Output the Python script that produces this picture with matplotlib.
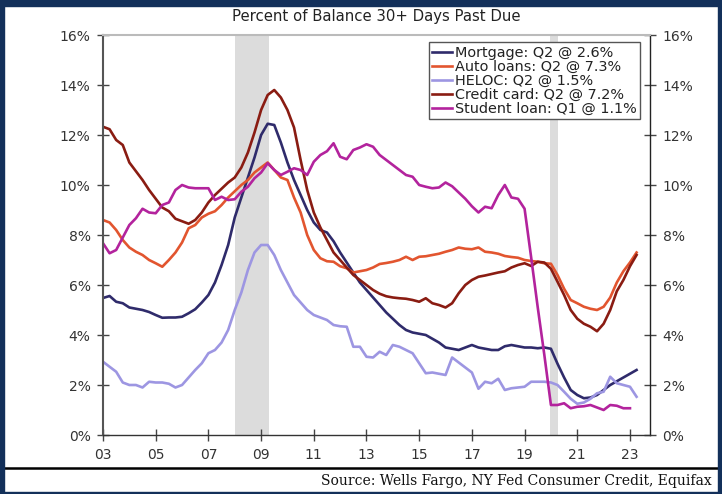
import matplotlib
matplotlib.use("Agg")
import matplotlib.pyplot as plt
from matplotlib.patches import Rectangle
from matplotlib.lines import Line2D
import numpy as np

# ---------------- data (quarterly, 2003Q1 ...) ----------------
start_year = 2003.0
mortgage = [5.48, 5.56, 5.33, 5.27,
            5.10, 5.05, 5.00, 4.92,
            4.80, 4.69, 4.70, 4.70,
            4.73, 4.87, 5.03, 5.30,
            5.60, 6.10, 6.80, 7.60,
            8.70, 9.50, 10.30, 11.10,
            12.00, 12.45, 12.40, 11.70,
            10.90, 10.20, 9.60, 9.00,
            8.50, 8.20, 8.10, 7.75,
            7.30, 6.90, 6.50, 6.10,
            5.80, 5.50, 5.20, 4.90,
            4.65, 4.40, 4.20, 4.10,
            4.05, 4.00, 3.85, 3.70,
            3.50, 3.45, 3.40, 3.50,
            3.60, 3.50, 3.45, 3.40,
            3.40, 3.55, 3.60, 3.55,
            3.50, 3.50, 3.47, 3.50,
            3.45, 2.85, 2.30, 1.80,
            1.60, 1.47, 1.50, 1.60,
            1.80, 2.00, 2.15, 2.30,
            2.45, 2.60]
auto = [8.60, 8.50, 8.20, 7.80,
        7.50, 7.33, 7.20, 7.00,
        6.87, 6.73, 7.00, 7.30,
        7.70, 8.27, 8.40, 8.70,
        8.85, 8.95, 9.20, 9.50,
        9.75, 10.00, 10.20, 10.50,
        10.70, 10.90, 10.60, 10.30,
        10.20, 9.50, 8.90, 8.00,
        7.40, 7.07, 6.95, 6.93,
        6.75, 6.67, 6.50, 6.55,
        6.60, 6.70, 6.84, 6.88,
        6.93, 7.00, 7.13, 7.00,
        7.13, 7.15, 7.20, 7.25,
        7.33, 7.40, 7.50, 7.45,
        7.43, 7.50, 7.33, 7.30,
        7.25, 7.16, 7.12, 7.09,
        7.00, 6.96, 6.93, 6.87,
        6.85, 6.40, 5.85, 5.40,
        5.27, 5.13, 5.05, 5.00,
        5.13, 5.50, 6.10, 6.55,
        6.90, 7.30]
heloc = [2.93, 2.73, 2.53, 2.10,
         2.00, 2.00, 1.90, 2.13,
         2.10, 2.10, 2.05, 1.90,
         2.00, 2.30, 2.60, 2.87,
         3.27, 3.40, 3.70, 4.20,
         5.00, 5.70, 6.60, 7.30,
         7.60, 7.60, 7.20, 6.60,
         6.10, 5.60, 5.30, 5.00,
         4.80, 4.70, 4.60, 4.40,
         4.35, 4.33, 3.53, 3.53,
         3.13, 3.10, 3.33, 3.20,
         3.60, 3.53, 3.40, 3.27,
         2.87, 2.47, 2.50, 2.45,
         2.40, 3.10, 2.90, 2.70,
         2.50, 1.85, 2.13, 2.07,
         2.25, 1.80, 1.87, 1.90,
         1.93, 2.13, 2.13, 2.13,
         2.10, 2.00, 1.73, 1.45,
         1.25, 1.30, 1.45, 1.67,
         1.73, 2.33, 2.07, 2.00,
         1.93, 1.53]
credit_card = [12.33, 12.23, 11.80, 11.60,
               10.90, 10.55, 10.20, 9.80,
               9.45, 9.10, 8.95, 8.65,
               8.55, 8.45, 8.60, 8.90,
               9.30, 9.60, 9.85, 10.10,
               10.30, 10.70, 11.30, 12.10,
               13.00, 13.60, 13.80, 13.50,
               13.00, 12.30, 11.00, 9.80,
               8.90, 8.30, 7.80, 7.30,
               7.00, 6.70, 6.40, 6.20,
               6.00, 5.80, 5.65, 5.55,
               5.50, 5.47, 5.45, 5.40,
               5.33, 5.47, 5.27, 5.20,
               5.10, 5.27, 5.67, 6.00,
               6.20, 6.33, 6.38, 6.44,
               6.50, 6.55, 6.70, 6.80,
               6.87, 6.76, 6.93, 6.90,
               6.65, 6.13, 5.60, 5.00,
               4.65, 4.45, 4.33, 4.15,
               4.45, 5.00, 5.75, 6.20,
               6.75, 7.20]
student_loan = [7.67, 7.27, 7.40, 7.90,
                8.40, 8.67, 9.05, 8.90,
                8.87, 9.20, 9.30, 9.80,
                10.00, 9.90, 9.87, 9.87,
                9.87, 9.40, 9.53, 9.40,
                9.43, 9.73, 9.93, 10.27,
                10.50, 10.87, 10.60, 10.40,
                10.53, 10.67, 10.60, 10.40,
                10.93, 11.20, 11.35, 11.67,
                11.13, 11.03, 11.40, 11.50,
                11.63, 11.53, 11.20, 11.00,
                10.80, 10.60, 10.40, 10.33,
                10.00, 9.93, 9.87, 9.90,
                10.10, 9.95, 9.70, 9.45,
                9.15, 8.90, 9.13, 9.07,
                9.60, 10.00, 9.50, 9.45,
                9.05, 7.10, 5.10, 3.20,
                1.20, 1.20, 1.27, 1.07,
                1.13, 1.15, 1.20, 1.10,
                1.00, 1.20, 1.17, 1.07,
                1.07]

series_names = ["Mortgage: Q2 @ 2.6%", "Auto loans: Q2 @ 7.3%", "HELOC: Q2 @ 1.5%",
                "Credit card: Q2 @ 7.2%", "Student loan: Q1 @ 1.1%"]
series_values = [mortgage, auto, heloc, credit_card, student_loan]
series_colors = ["#2f2b6b", "#e2552f", "#9d96e2", "#8a1c12", "#b3239d"]

recessions = [(2008.0, 2009.3), (2019.95, 2020.25)]
x_tick_years = [2003, 2005, 2007, 2009, 2011, 2013, 2015, 2017, 2019, 2021, 2023]
x_tick_labels = ["03", "05", "07", "09", "11", "13", "15", "17", "19", "21", "23"]
y_ticks = [0, 2, 4, 6, 8, 10, 12, 14, 16]
y_tick_labels = ["0%", "2%", "4%", "6%", "8%", "10%", "12%", "14%", "16%"]
title = "Percent of Balance 30+ Days Past Due"
source = "Source: Wells Fargo, NY Fed Consumer Credit, Equifax"

# ---------------- figure ----------------
W, H = 722, 494
fig = plt.figure(figsize=(W / 100, H / 100), dpi=100)
fig.patch.set_facecolor("white")

L, R, T, B = 103, 650, 35, 435
ax = fig.add_axes([L / W, 1 - B / H, (R - L) / W, (B - T) / H])

for lo, hi in recessions:
    ax.axvspan(lo, hi, color="#dcdcdc", lw=0, zorder=0)

for name, vals, col in zip(series_names, series_values, series_colors):
    t = start_year + 0.25 * np.arange(len(vals))
    ax.plot(t, vals, color=col, lw=1.9, label=name, solid_joinstyle="round", zorder=2)

ax.set_xlim(2003.0, 2023.76)
ax.set_ylim(0, 16)
ax.set_xticks(x_tick_years)
ax.set_xticklabels(x_tick_labels)
ax.set_yticks(y_ticks)
ax.set_yticklabels(y_tick_labels)
ax.tick_params(axis="both", direction="inout", length=8, width=1, color="#444444",
               labelsize=10, labelcolor="#333333")
ax.tick_params(axis="y", pad=5, left=True, right=True, labelleft=True, labelright=True)
ax.tick_params(axis="x", pad=5)

ax.spines["left"].set_color("#555555")
ax.spines["left"].set_linewidth(1.5)
ax.spines["bottom"].set_color("#333333")
ax.spines["bottom"].set_linewidth(1.0)
ax.spines["right"].set_color("#222222")
ax.spines["right"].set_linewidth(1.0)
ax.spines["top"].set_color("#bbbbbb")
ax.spines["top"].set_linewidth(1.5)

leg = ax.legend(loc="upper right", bbox_to_anchor=((640 - L) / (R - L), (B - 42) / (B - T)),
                fontsize=10.4, frameon=True, fancybox=False, framealpha=1,
                edgecolor="#555555", handlelength=1.4, handletextpad=0.15,
                labelspacing=0.0, borderpad=0.25, borderaxespad=0)
leg.get_frame().set_linewidth(1.0)
for txt in leg.get_texts():
    txt.set_color("#222222")

fig.text((L + R) / 2 / W, 1 - 16 / H, title, ha="center", va="center",
         fontsize=10.7, color="#222222")

# frame decorations
navy = "#13305a"
fig.patches.append(Rectangle((0, 1 - 6 / H), 1, 6 / H, transform=fig.transFigure,
                             color=navy, zorder=10))
fig.patches.append(Rectangle((0, 0), 4 / W, 1, transform=fig.transFigure, color=navy, zorder=10))
fig.patches.append(Rectangle((1 - 4 / W, 0), 4 / W, 1, transform=fig.transFigure,
                             color=navy, zorder=10))
fig.patches.append(Rectangle((0, 0), 1, 2 / H, transform=fig.transFigure, color=navy, zorder=10))
fig.lines.append(Line2D([4 / W, 1 - 4 / W], [1 - 468 / H, 1 - 468 / H],
                        transform=fig.transFigure, color="black", lw=1.8))

fig.text(712 / W, 1 - 481 / H, source, ha="right", va="center",
         fontsize=10, family="DejaVu Serif", color="#111111")

fig.savefig("out.png", dpi=100, facecolor="white")
